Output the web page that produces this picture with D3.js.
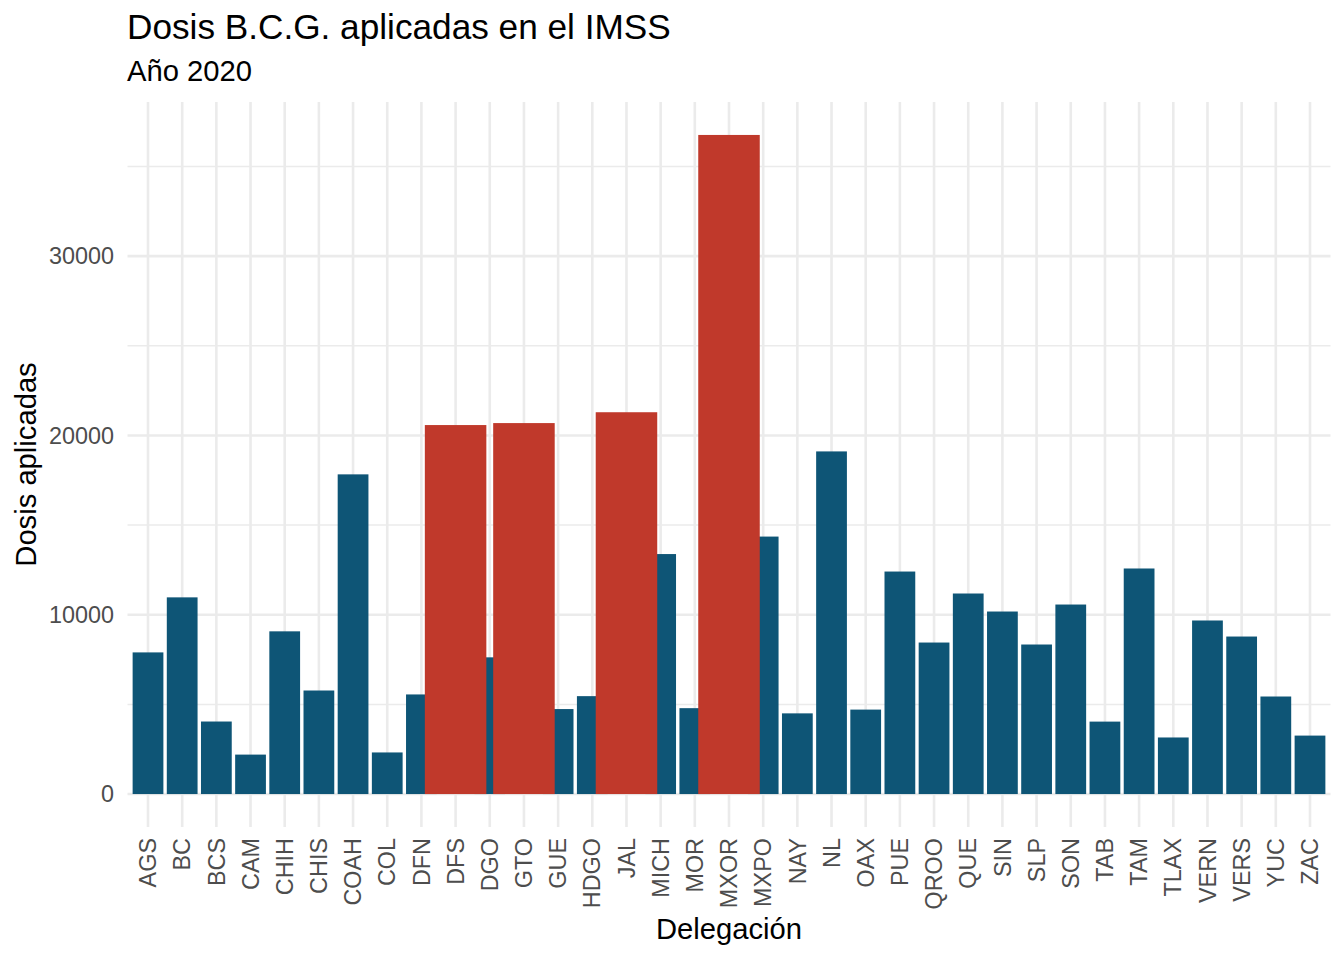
<!DOCTYPE html>
<html>
<head>
<meta charset="utf-8">
<script src="https://cdn.jsdelivr.net/npm/d3@7"></script>
<style>
  body { margin: 0; background: #fff; }
  svg { display: block; font-family: "Liberation Sans", Arial, sans-serif; }
</style>
</head>
<body>
<div id="chart-area"></div>
<script>
// data
let delegaciones = ["AGS", "BC", "BCS", "CAM", "CHIH", "CHIS", "COAH", "COL", "DFN", "DFS",
  "DGO", "GTO", "GUE", "HDGO", "JAL", "MICH", "MOR", "MXOR", "MXPO", "NAY",
  "NL", "OAX", "PUE", "QROO", "QUE", "SIN", "SLP", "SON", "TAB", "TAM",
  "TLAX", "VERN", "VERS", "YUC", "ZAC"];
let dosis = [7900, 10970, 4045, 2200, 9075, 5775, 17830, 2320, 5555, 20580,
  7625, 20690, 4740, 5460, 21295, 13385, 4790, 36760, 14360, 4500,
  19110, 4710, 12410, 8450, 11185, 10180, 8340, 10570, 4040, 12580,
  3155, 9680, 8785, 5440, 3260];
// the four biggest ones get the red, wide bar
let destacadas = ["DFS", "GTO", "JAL", "MXOR"];
let yTicks = [0, 10000, 20000, 30000];
let yMinor = [5000, 15000, 25000, 35000];

let data = delegaciones.map(function(d, i){ return {del: d, val: dosis[i]}; });

// Variable
let w = 1344;
let h = 960;
let pLeft = 127.5, pRight = 1330.5, pTop = 102, pBottom = 827;
let azul = "#0E5576";
let rojo = "#C0392B";
let grid = "#EBEBEB";

// make SVG - Canvas
let svg = d3.select("#chart-area")
    .append("svg")
    .attr("width", w)
    .attr("height", h);

// Band Scale
//      for x axe
let x = d3.scaleBand()
    .domain(delegaciones)
    .range([pLeft, pRight])
    .paddingInner(0.1)
    .paddingOuter(0.15);

// Linear scale
//      for y axe (5% padding both ends, like ggplot)
let maxVal = d3.max(dosis);
let y = d3.scaleLinear()
    .domain([-0.05 * maxVal, 1.05 * maxVal])
    .range([pBottom, pTop]);

// grid lines
svg.append("g").selectAll("line")
    .data(yMinor)
    .enter()
    .append("line")
      .attr("x1", pLeft).attr("x2", pRight)
      .attr("y1", function(d){ return y(d); })
      .attr("y2", function(d){ return y(d); })
      .attr("stroke", grid)
      .attr("stroke-width", 1.5);

svg.append("g").selectAll("line")
    .data(yTicks)
    .enter()
    .append("line")
      .attr("x1", pLeft).attr("x2", pRight)
      .attr("y1", function(d){ return y(d); })
      .attr("y2", function(d){ return y(d); })
      .attr("stroke", grid)
      .attr("stroke-width", 2.6);

svg.append("g").selectAll("line")
    .data(delegaciones)
    .enter()
    .append("line")
      .attr("x1", function(d){ return x(d) + x.bandwidth() / 2; })
      .attr("x2", function(d){ return x(d) + x.bandwidth() / 2; })
      .attr("y1", pTop).attr("y2", pBottom)
      .attr("stroke", grid)
      .attr("stroke-width", 2.6);

// blue bars first, red ones on top
let normales = data.filter(function(d){ return destacadas.indexOf(d.del) < 0; });
let rojas = data.filter(function(d){ return destacadas.indexOf(d.del) >= 0; });

svg.append("g").selectAll("rect")
    .data(normales)
    .enter()
    .append("rect")
      .attr("x", function(d){ return x(d.del); })
      .attr("y", function(d){ return y(d.val); })
      .attr("width", x.bandwidth())
      .attr("height", function(d){ return y(0) - y(d.val); })
      .attr("fill", azul);

svg.append("g").selectAll("rect")
    .data(rojas)
    .enter()
    .append("rect")
      .attr("x", function(d){ return x(d.del) + x.bandwidth() / 2 - x.bandwidth(); })
      .attr("y", function(d){ return y(d.val); })
      .attr("width", x.bandwidth() * 2)
      .attr("height", function(d){ return y(0) - y(d.val); })
      .attr("fill", rojo);

// y tick labels
svg.append("g").selectAll("text")
    .data(yTicks)
    .enter()
    .append("text")
    .text(function(d){ return d; })
    .attr("x", 114)
    .attr("y", function(d){ return y(d); })
    .attr("dy", "0.35em")
    .attr("text-anchor", "end")
    .attr("font-size", 23.4)
    .attr("fill", "#4D4D4D");

// x tick labels, rotated
svg.append("g").selectAll("text")
    .data(delegaciones)
    .enter()
    .append("text")
    .text(function(d){ return d; })
    .attr("transform", function(d){
      return "translate(" + (x(d) + x.bandwidth() / 2) + ",838) rotate(-90)";
    })
    .attr("dy", "0.35em")
    .attr("text-anchor", "end")
    .attr("font-size", 23.4)
    .attr("fill", "#4D4D4D");

// titles
svg.append("text")
    .text("Dosis B.C.G. aplicadas en el IMSS")
    .attr("x", 127)
    .attr("y", 39)
    .attr("font-size", 35.2)
    .attr("fill", "#000");

svg.append("text")
    .text("Año 2020")
    .attr("x", 127)
    .attr("y", 81)
    .attr("font-size", 29.2)
    .attr("fill", "#000");

svg.append("text")
    .text("Delegación")
    .attr("x", (pLeft + pRight) / 2)
    .attr("y", 939)
    .attr("text-anchor", "middle")
    .attr("font-size", 29.2)
    .attr("fill", "#000");

svg.append("text")
    .text("Dosis aplicadas")
    .attr("transform", "translate(36," + ((pTop + pBottom) / 2) + ") rotate(-90)")
    .attr("text-anchor", "middle")
    .attr("font-size", 29.2)
    .attr("fill", "#000");
</script>
</body>
</html>
